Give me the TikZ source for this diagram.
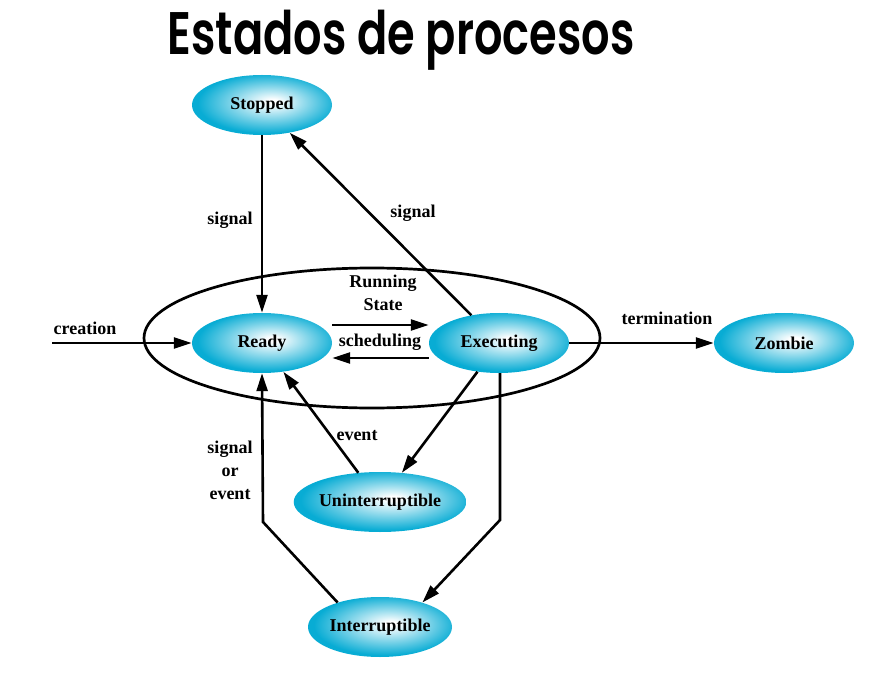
\documentclass[tikz,border=0pt]{standalone}
\usepackage{fontspec}
\setmainfont{Liberation Serif}
\newfontfamily\titlefont[FakeStretch=0.745]{Poppins SemiBold}
\usetikzlibrary{shapes.geometric,arrows.meta}
\definecolor{statecyan}{RGB}{8,172,212}
\pgfdeclareradialshading{stateshade}{\pgfpoint{4bp}{3bp}}{color(0bp)=(white); color(2bp)=(white); color(25bp)=(statecyan); color(50bp)=(statecyan)}

\begin{document}
\begin{tikzpicture}[x=1pt, y=-1pt,
      every node/.style={font=\bfseries\fontsize{18}{23}\selectfont, align=center},
      state/.style={ellipse, shading=stateshade, minimum width=140pt, minimum height=60pt, inner sep=0pt},
      wide/.style={minimum width=144pt},
      trans/.style={line width=2.6pt, -{Triangle[length=18pt, width=11pt]}}]
  \useasboundingbox (0,0) rectangle (886,676);
  \node (title) [anchor=base, font=\titlefont\fontsize{60}{60}\selectfont] at (401,55) {Estados de procesos};

  % states
  \node (running) [draw, ellipse, line width=2.7pt, minimum width=456pt, minimum height=140pt] at (372,338) {};
  \node (stop) [state] at (262,105) {Stopped};
  \node (ready) [state] at (262,343) {Ready};
  \node (exec) [state] at (499,343) {Executing};
  \node (zombie) [state] at (784,343) {Zombie};
  \node (unint) [state, wide] at (380,502) {Uninterruptible};
  \node (intr) [state, wide] at (380,627) {Interruptible};

  \coordinate (src) at (52,343);
  \coordinate (down) at (500,520);
  \coordinate (up) at (263,522);

  % transitions
  \draw [trans] (src) -- (ready);
  \draw [trans] (stop) -- (ready);
  \draw [trans] (exec) -- (stop);
  \draw [trans] ([yshift=18pt]ready.east) -- ([yshift=18pt]exec.west);
  \draw [trans] ([yshift=-15pt]exec.west) -- ([yshift=-15pt]ready.east);
  \draw [trans] (exec) -- (zombie);
  \draw [trans] (unint) -- (ready);
  \draw [trans] (exec) -- (unint);
  \draw [trans] (exec.south -| down) -- (down) -- (intr.30);
  \draw [trans] (intr.150) -- (up) -- (ready.south);

  % labels
  \node (lcreation) at (85,328) {creation};
  \node (lsigstop) at (230,220) {signal};
  \node (lsigexec) at (413,213) {signal};
  \node (lrunning) at (383,293) {Running\\State};
  \node (lsched) at (380,342) {scheduling};
  \node (lterm) at (667,318) {termination};
  \node (levent) at (357,436) {event};
  \node (lsigev) at (230,470) {signal\\or\\event};
\end{tikzpicture}
\end{document}
